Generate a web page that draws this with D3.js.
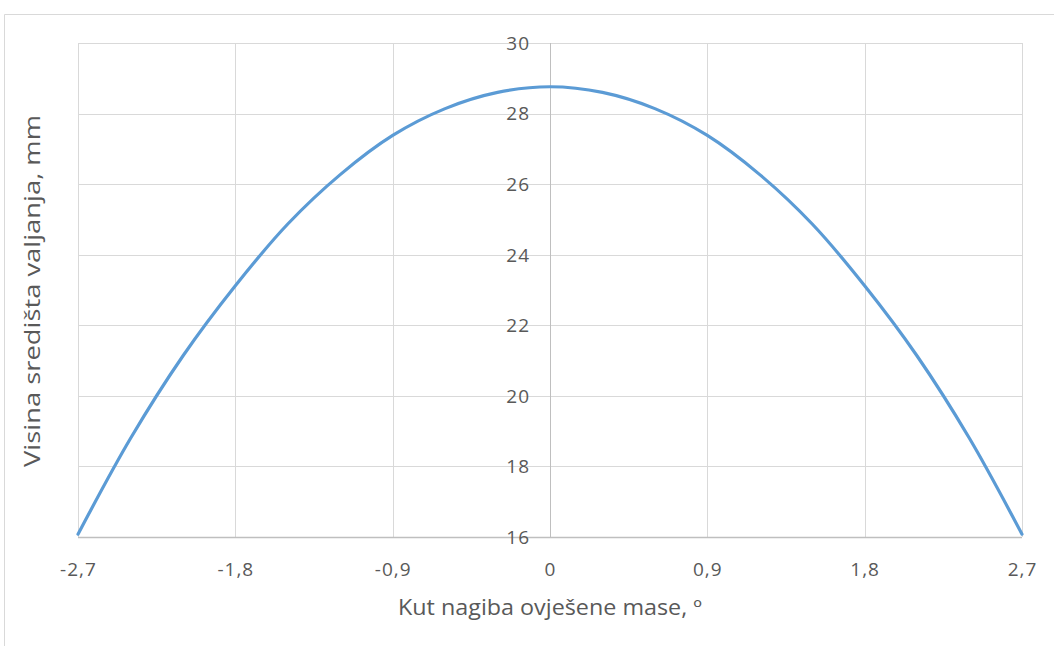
<!DOCTYPE html>
<html><head><meta charset="utf-8">
<script src="https://cdn.jsdelivr.net/npm/d3@7"></script>
<style>body{margin:0;background:#fff}svg{display:block}</style>
</head><body>
<svg id="c" width="1054" height="646"></svg>
<script>
const angles = [-2.7,-2.4,-2.1,-1.8,-1.5,-1.2,-0.9,-0.6,-0.3,0,0.3,0.6,0.9,1.2,1.5,1.8,2.1,2.4,2.7];
const heights = [16.08,18.79,21.13,23.12,24.87,26.27,27.38,28.14,28.60,28.76,28.60,28.14,27.38,26.27,24.87,23.12,21.13,18.79,16.08];
const xTicks = [-2.7,-1.8,-0.9,0,0.9,1.8,2.7];
const yTicks = [16,18,20,22,24,26,28,30];
const xTitle = "Kut nagiba ovješene mase, º";
const yTitle = "Visina središta valjanja, mm";

const svg = d3.select("#c");
const font = "'Open Sans', 'Liberation Sans', sans-serif";
const L = 78, R = 1022, T = 43, B = 537;
const x = d3.scaleLinear().domain([-2.7, 2.7]).range([L, R]);
const y = d3.scaleLinear().domain([16, 30]).range([B, T]);

// outer chart border
svg.append("path").attr("d", `M4.5,660 V14.5 H1070`).attr("fill","none").attr("stroke","#d9d9d9").attr("stroke-width",1);

const fmt = v => String(v).replace(".", ",");

// gridlines
svg.append("g").selectAll("line").data(yTicks.filter(v => v !== 16)).join("line")
  .attr("x1", L).attr("x2", R).attr("y1", d => Math.round(y(d)) + 0.5).attr("y2", d => Math.round(y(d)) + 0.5)
  .attr("stroke", "#d9d9d9").attr("stroke-width", 1);
svg.append("g").selectAll("line").data(xTicks).join("line")
  .attr("x1", d => Math.round(x(d)) + 0.5).attr("x2", d => Math.round(x(d)) + 0.5).attr("y1", T).attr("y2", B)
  .attr("stroke", d => d === 0 ? "#bfbfbf" : "#d9d9d9").attr("stroke-width", 1);
// bottom axis line
svg.append("line").attr("x1", L).attr("x2", R).attr("y1", Math.round(y(16)) + 0.5).attr("y2", Math.round(y(16)) + 0.5)
  .attr("stroke", "#bfbfbf").attr("stroke-width", 1.3);

// x tick labels
svg.append("g").selectAll("text").data(xTicks).join("text")
  .attr("x", d => x(d) + 0.5).attr("y", 576).attr("text-anchor", "middle")
  .attr("font-family", font).attr("font-size", 19).attr("letter-spacing", 1).attr("fill", "#595959").text(fmt);
// y tick labels
svg.append("g").selectAll("text").data(yTicks).join("text")
  .attr("x", x(0) - 20).attr("y", d => y(d)).attr("dy", "0.36em").attr("text-anchor", "end")
  .attr("font-family", font).attr("font-size", 19).attr("letter-spacing", 1).attr("fill", "#595959").text(fmt);

// curve
const pts = angles.map((a, i) => [a, heights[i]]);
svg.append("path").datum(pts)
  .attr("d", d3.line().x(d => x(d[0])).y(d => y(d[1])).curve(d3.curveCatmullRom.alpha(0.5)))
  .attr("fill", "none").attr("stroke", "#5b9bd5").attr("stroke-width", 3.2).attr("stroke-linecap", "round");

// axis titles
svg.append("text").attr("x", x(0)).attr("y", 615).attr("text-anchor", "middle")
  .attr("font-family", font).attr("font-size", 21).attr("fill", "#595959")
  .attr("textLength", 304).attr("lengthAdjust", "spacingAndGlyphs").text(xTitle);
svg.append("text").attr("transform", `translate(40,${(T + B) / 2 + 1}) rotate(-90)`).attr("text-anchor", "middle")
  .attr("font-family", font).attr("font-size", 22).attr("fill", "#595959")
  .attr("textLength", 352).attr("lengthAdjust", "spacingAndGlyphs").text(yTitle);
</script>
</body></html>
